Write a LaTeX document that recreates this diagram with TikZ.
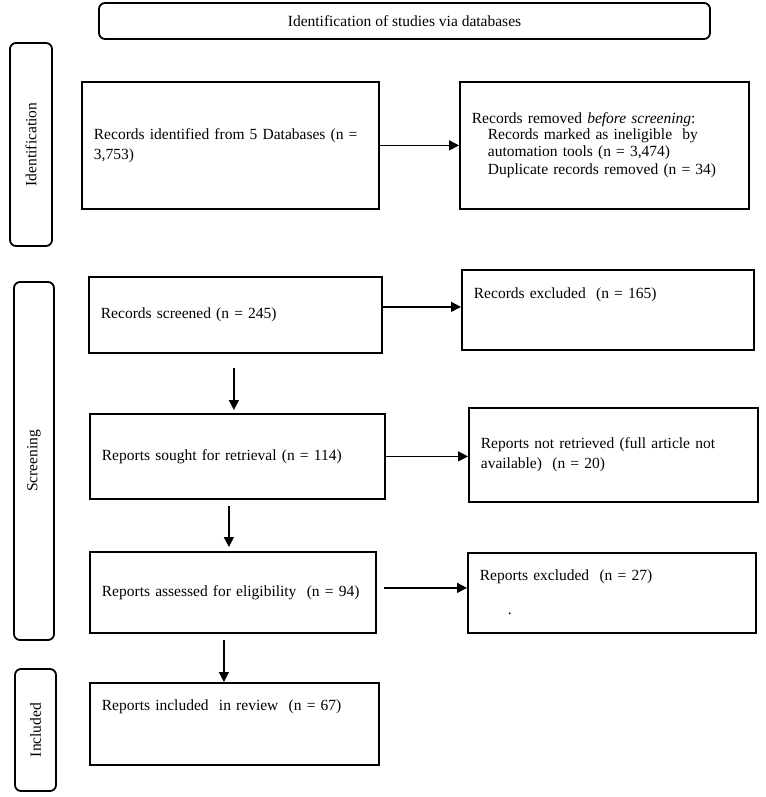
\documentclass[tikz,border=0pt]{standalone}
\usepackage{fontspec}
\setmainfont{Liberation Serif}
\usetikzlibrary{arrows.meta,positioning}

\begin{document}
\begin{tikzpicture}[x=1pt,y=-1pt,
	box/.style={draw, line width=1.8pt, anchor=north west, align=left, inner xsep=12pt, inner ysep=4pt, font=\fontsize{15.5}{20}\selectfont},
	side/.style={draw, line width=1.8pt, rounded corners=6pt, rotate=90, inner sep=0pt, font=\fontsize{15.5}{20}\selectfont},
	flow/.style={-{Triangle[length=10pt,width=10pt]}, line width=1.5pt}]
	\useasboundingbox (0,0) rectangle (765,797);

	% phases
	\node[side, minimum width=611pt, minimum height=36pt, rotate=-90] (title) at (404.5,21) {Identification of studies via databases};
	\node[side, minimum width=203pt, minimum height=42pt] (phaseid) at (31,144.5) {Identification};
	\node[side, minimum width=358pt, minimum height=40pt] (phasescr) at (34,461) {Screening};
	\node[side, minimum width=122pt, minimum height=41pt] (phaseinc) at (35.5,730) {Included};

	% boxes
	\node[box, text width=273pt, minimum height=127pt] (ident) at (81,81)
	{Records identified from 5 Databases (n =\\3,753)};
	\node[box, text width=265pt, minimum height=127pt, font=\fontsize{15.5}{16.5}\selectfont] (removed) at (459,81)
	{Records removed \emph{before screening}:\\
	\hspace*{16pt}Records marked as ineligible~ by\\
	\hspace*{16pt}automation tools (n = 3,474)\\[2pt]
	\hspace*{16pt}Duplicate records removed (n = 34)};
	\node[box, text width=269pt, minimum height=76pt] (screened) at (88,276) {Records screened (n = 245)};
	\node[box, text width=268pt, text height=25pt, text depth=47pt] (excluded) at (461,269) {Records excluded~ (n = 165)};
	\node[box, text width=271pt, minimum height=85pt] (sought) at (89,413) {Reports sought for retrieval (n = 114)};
	\node[box, text width=265pt, minimum height=94pt] (notretr) at (468,407)
	{Reports not retrieved (full article not\\available)~ (n = 20)};
	\node[box, text width=262pt, minimum height=81pt] (assessed) at (89,551) {Reports assessed for eligibility~ (n = 94)};
	\node[box, text width=264pt, text height=24pt, text depth=48pt] (excluded2) at (467,552)
	{Reports excluded~ (n = 27)\\[14pt]\hspace*{28pt}.};
	\node[box, text width=265pt, text height=24pt, text depth=50pt] (included) at (89,682) {Reports included~ in review~ (n = 67)};

	% arrows
	\draw[flow] (ident) -- (removed);
	\draw[flow] ([yshift=8pt]screened.east) -- ([yshift=8pt]screened.east -| excluded.west);
	\draw[flow] (sought.east) -- (sought.east -| notretr.west);
	\draw[flow, shorten <=7pt] ([yshift=4.5pt]assessed.east) -- ([yshift=4.5pt]assessed.east -| excluded2.west);

	\draw[flow, shorten <=14pt, shorten >=3pt] ([xshift=-1.5pt]screened.south) -- ([xshift=-1.5pt]screened.south |- sought.north);
	\draw[flow, shorten <=6pt, shorten >=4pt] ([xshift=-4pt]assessed.north |- sought.south) -- ([xshift=-4pt]assessed.north);
	\draw[flow, shorten <=6pt] ([xshift=-9pt]assessed.south) -- ([xshift=-9pt]assessed.south |- included.north);

\end{tikzpicture}
\end{document}
